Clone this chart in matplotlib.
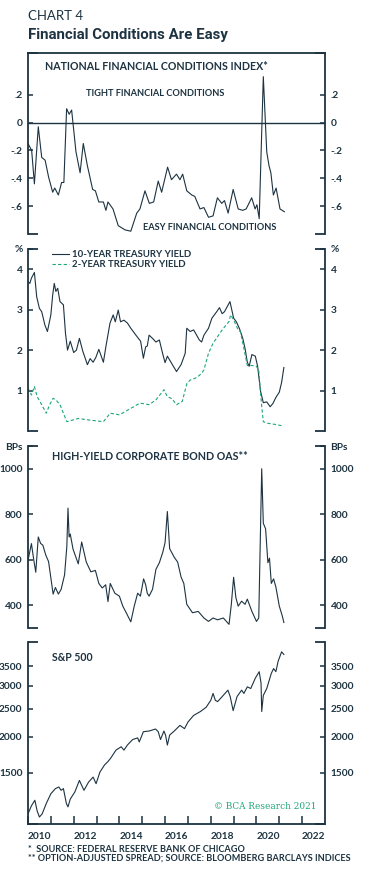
import matplotlib
matplotlib.use("Agg")
import matplotlib.pyplot as plt
import matplotlib.ticker as mticker
import numpy as np

NAVY = "#1d3341"
GREEN = "#1ea67a"

# ---- data ----
nfci_t = [2010.0, 2010.16, 2010.28, 2010.45, 2010.6, 2010.75, 2010.9, 2011.08, 2011.17, 2011.33,
          2011.47, 2011.57, 2011.69, 2011.8, 2011.91, 2012.1, 2012.28, 2012.42, 2012.6, 2012.83,
          2012.95, 2013.1, 2013.3, 2013.41, 2013.5, 2013.72, 2013.95, 2014.24, 2014.5, 2014.76,
          2014.9, 2015.12, 2015.31, 2015.5, 2015.7, 2015.85, 2016.11, 2016.28, 2016.5, 2016.65,
          2016.77, 2016.95, 2017.17, 2017.3, 2017.53, 2017.7, 2017.9, 2018.1, 2018.29, 2018.48,
          2018.6, 2018.76, 2018.98, 2019.2, 2019.4, 2019.55, 2019.79, 2019.94, 2020.02, 2020.12,
          2020.3, 2020.45, 2020.55, 2020.63, 2020.74, 2020.86, 2021.03, 2021.22]
nfci_v = [-0.15, -0.20, -0.44, -0.03, -0.25, -0.27, -0.39, -0.50, -0.47, -0.52,
          -0.43, -0.43, 0.10, 0.06, 0.09, -0.21, -0.36, -0.15, -0.31, -0.48,
          -0.49, -0.57, -0.57, -0.63, -0.57, -0.62, -0.74, -0.77, -0.78, -0.65,
          -0.62, -0.49, -0.58, -0.57, -0.42, -0.50, -0.32, -0.41, -0.37, -0.41,
          -0.37, -0.49, -0.52, -0.53, -0.62, -0.61, -0.68, -0.67, -0.54, -0.58,
          -0.56, -0.65, -0.48, -0.62, -0.63, -0.62, -0.54, -0.62, -0.59, -0.69,
          0.33, -0.21, -0.31, -0.36, -0.52, -0.47, -0.62, -0.64]

y10_t = [2010.0, 2010.08, 2010.15, 2010.28, 2010.38, 2010.5, 2010.6, 2010.74, 2010.85, 2011.0,
         2011.08, 2011.15, 2011.22, 2011.3, 2011.4, 2011.55, 2011.64, 2011.73, 2011.85, 2012.0,
         2012.12, 2012.25, 2012.4, 2012.6, 2012.72, 2012.85, 2012.97, 2013.1, 2013.3, 2013.41,
         2013.59, 2013.73, 2013.82, 2013.95, 2014.05, 2014.2, 2014.35, 2014.5, 2014.83, 2014.93,
         2015.05, 2015.15, 2015.22, 2015.3, 2015.45, 2015.6, 2015.75, 2015.9, 2016.0, 2016.1,
         2016.5, 2016.7, 2016.88, 2016.95, 2017.1, 2017.25, 2017.5, 2017.6, 2017.7, 2017.9,
         2018.05, 2018.26, 2018.38, 2018.5, 2018.6, 2018.84, 2019.0, 2019.12, 2019.25, 2019.4,
         2019.5, 2019.6, 2019.68, 2019.8, 2019.95, 2020.05, 2020.18, 2020.3, 2020.45, 2020.6,
         2020.72, 2020.85, 2021.0, 2021.1, 2021.2]
y10_v = [3.69, 3.65, 3.78, 3.92, 3.32, 3.03, 2.95, 2.62, 2.46, 2.87,
         3.36, 3.65, 3.45, 3.53, 3.20, 3.12, 2.42, 2.00, 2.22, 1.94,
         2.00, 2.29, 1.97, 1.64, 1.79, 1.70, 1.82, 2.02, 1.70, 2.09,
         2.67, 2.87, 2.70, 2.99, 2.70, 2.74, 2.67, 2.54, 2.29, 2.22,
         1.80, 2.08, 2.10, 2.37, 2.29, 2.20, 2.25, 1.90, 1.69, 1.85,
         1.47, 1.64, 1.92, 2.54, 2.46, 2.50, 2.25, 2.20, 2.37, 2.54,
         2.79, 2.95, 3.05, 2.90, 2.95, 3.20, 2.79, 2.70, 2.54, 2.29,
         2.04, 1.70, 1.60, 1.89, 1.85, 1.60, 0.98, 0.70, 0.72, 0.60,
         0.68, 0.83, 0.96, 1.20, 1.57]

y2_t = [2010.0, 2010.15, 2010.28, 2010.4, 2010.6, 2010.8, 2010.95, 2011.1, 2011.25, 2011.4,
        2011.55, 2011.7, 2012.2, 2012.7, 2013.3, 2013.6, 2014.0, 2014.5, 2014.9, 2015.3,
        2015.6, 2015.95, 2016.1, 2016.3, 2016.5, 2016.75, 2016.96, 2017.1, 2017.3, 2017.45,
        2017.6, 2017.7, 2017.9, 2018.1, 2018.5, 2018.8, 2018.87, 2019.0, 2019.2, 2019.3,
        2019.45, 2019.6, 2019.8, 2020.0, 2020.1, 2020.23, 2020.3, 2020.5, 2020.85, 2021.2]
y2_v = [1.06, 0.89, 1.10, 0.85, 0.65, 0.44, 0.65, 0.81, 0.75, 0.65,
        0.44, 0.23, 0.31, 0.27, 0.23, 0.44, 0.40, 0.56, 0.69, 0.65,
        0.77, 1.02, 0.85, 0.80, 0.65, 0.73, 1.18, 1.26, 1.30, 1.35,
        1.43, 1.51, 1.92, 2.17, 2.50, 2.71, 2.87, 2.75, 2.50, 2.45,
        2.04, 1.62, 1.62, 1.60, 1.50, 0.60, 0.23, 0.19, 0.16, 0.12]

hy_t = [2010.0, 2010.15, 2010.25, 2010.34, 2010.45, 2010.55, 2010.65, 2010.78, 2010.9, 2011.1,
        2011.2, 2011.33, 2011.45, 2011.6, 2011.7, 2011.75, 2011.8, 2011.85, 2011.97, 2012.2,
        2012.35, 2012.55, 2012.75, 2012.95, 2013.1, 2013.25, 2013.4, 2013.5, 2013.6, 2013.8,
        2014.0, 2014.15, 2014.3, 2014.5, 2014.65, 2014.8, 2014.92, 2015.06, 2015.15, 2015.22,
        2015.3, 2015.45, 2015.6, 2015.75, 2015.9, 2016.0, 2016.1, 2016.2, 2016.4, 2016.55,
        2016.7, 2016.82, 2016.95, 2017.2, 2017.45, 2017.7, 2017.9, 2018.1, 2018.3, 2018.55,
        2018.8, 2018.9, 2019.0, 2019.1, 2019.2, 2019.35, 2019.5, 2019.6, 2019.8, 2020.0,
        2020.1, 2020.23, 2020.3, 2020.4, 2020.5, 2020.57, 2020.65, 2020.75, 2020.85, 2021.0,
        2021.13, 2021.2]
hy_v = [597, 671, 601, 545, 700, 672, 664, 620, 592, 449,
        478, 449, 470, 533, 659, 827, 700, 713, 647, 582,
        678, 590, 547, 553, 496, 476, 490, 416, 496, 453,
        440, 396, 367, 327, 396, 453, 440, 516, 490, 453,
        440, 470, 558, 587, 633, 676, 812, 649, 611, 590,
        524, 496, 404, 367, 373, 344, 329, 344, 336, 344,
        316, 404, 523, 433, 396, 418, 404, 427, 373, 329,
        344, 1000, 760, 736, 587, 607, 496, 516, 480, 396,
        353, 324]

spx_t = [2010.0, 2010.15, 2010.3, 2010.4, 2010.5, 2010.62, 2010.8, 2011.0, 2011.2, 2011.35,
         2011.45, 2011.55, 2011.68, 2011.75, 2011.85, 2012.05, 2012.25, 2012.45, 2012.65, 2012.85,
         2012.98, 2013.15, 2013.35, 2013.5, 2013.62, 2013.85, 2014.08, 2014.2, 2014.35, 2014.58,
         2014.8, 2014.87, 2015.05, 2015.3, 2015.58, 2015.7, 2015.8, 2015.95, 2016.02, 2016.1,
         2016.2, 2016.4, 2016.65, 2016.85, 2017.0, 2017.25, 2017.55, 2017.8, 2018.0, 2018.1,
         2018.2, 2018.3, 2018.5, 2018.75, 2018.85, 2018.98, 2019.15, 2019.35, 2019.45, 2019.6,
         2019.75, 2019.95, 2020.12, 2020.2, 2020.23, 2020.3, 2020.45, 2020.65, 2020.75, 2020.85,
         2020.95, 2021.1, 2021.2]
spx_v = [1084, 1156, 1208, 1110, 1057, 1084, 1177, 1272, 1325, 1342,
         1307, 1325, 1177, 1146, 1219, 1290, 1414, 1307, 1395, 1452,
         1378, 1512, 1599, 1643, 1688, 1799, 1848, 1799, 1873, 1957,
         1983, 1920, 2083, 2094, 2128, 2083, 1957, 2094, 2027, 1873,
         2027, 2094, 2190, 2134, 2249, 2371, 2446, 2531, 2673, 2824,
         2673, 2646, 2754, 2898, 2754, 2463, 2754, 2898, 2824, 2976,
         2936, 3189, 3357, 3067, 2445, 2780, 2936, 3312, 3441, 3357,
         3650, 3930, 3850]

years_major = list(range(2010, 2023, 2))
years_minor = list(range(2011, 2023, 2))

plt.rcParams['font.family'] = ['Lato', 'DejaVu Sans']

W, H = 376, 880
fig = plt.figure(figsize=(W / 100, H / 100), dpi=100)


def fx(px):
    return px / W


def fy(py):
    return 1 - py / H


left, right = 28, 325
panels = [(53, 234), (249, 431), (446, 628), (642, 824)]
axes = []
for top, bot in panels:
    ax = fig.add_axes([fx(left), fy(bot), fx(right - left), (bot - top) / H])
    axes.append(ax)

stub = 10 / (right - left)
for i, ax in enumerate(axes):
    for s in ['top', 'bottom']:
        ax.spines[s].set_visible(False)
    for s in ['left', 'right']:
        ax.spines[s].set_color(NAVY)
        ax.spines[s].set_linewidth(1.3)
    ax.set_xlim(2010, 2023)
    ax.tick_params(axis='y', direction='in', length=3.5, width=1.1, color=NAVY,
                   left=True, right=True, labelleft=True, labelright=True,
                   labelsize=7.3, labelcolor=NAVY, pad=4)
    # short horizontal stubs at the corners
    for yy in [0, 1]:
        ax.plot([0, stub], [yy, yy], transform=ax.transAxes, color=NAVY, lw=1.3,
                clip_on=False, solid_capstyle='butt')
        ax.plot([1 - stub, 1], [yy, yy], transform=ax.transAxes, color=NAVY, lw=1.3,
                clip_on=False, solid_capstyle='butt')
    if i < 3:
        ax.set_xticks([])

# panel 1: NFCI
ax = axes[0]
ax.plot(nfci_t, nfci_v, color=NAVY, lw=0.8)
ax.axhline(0, color=NAVY, lw=1.0)
ax.spines['top'].set_visible(True)
ax.spines['top'].set_color(NAVY)
ax.spines['top'].set_linewidth(1.3)
ax.set_ylim(-0.8, 0.5)
ax.set_yticks([0.2, 0, -0.2, -0.4, -0.6])
ax.set_yticklabels(['.2', '0', '-.2', '-.4', '-.6'], fontweight='bold')
ax.text(fx(156), fy(67), "NATIONAL FINANCIAL CONDITIONS INDEX*", transform=fig.transFigure,
        ha='center', va='center', fontsize=7.7, fontweight='bold', color=NAVY)
ax.text(fx(86), fy(93), "TIGHT FINANCIAL CONDITIONS", transform=fig.transFigure,
        ha='left', va='center', fontsize=6.7, fontweight='bold', color=NAVY)
ax.text(fx(143), fy(227.5), "EASY FINANCIAL CONDITIONS", transform=fig.transFigure,
        ha='left', va='center', fontsize=6.7, fontweight='bold', color=NAVY)

# panel 2: Treasury yields
ax = axes[1]
ax.plot(y10_t, y10_v, color=NAVY, lw=0.8, label='10-YEAR TREASURY YIELD')
ax.plot(y2_t, y2_v, color=GREEN, lw=0.8, ls=(0, (3, 2)), label='2-YEAR TREASURY YIELD')
ax.set_ylim(0, 4.5)
ax.set_yticks([1, 2, 3, 4, 4.5])
ax.set_yticklabels(['1', '2', '3', '4', '%'], fontweight='bold')
ax.legend(loc='upper left', bbox_to_anchor=(0.075, 1.005),
          frameon=False, handlelength=1.75, handletextpad=0.35,
          labelspacing=0.15, borderpad=0.0, borderaxespad=0.2,
          prop={'weight': 'bold', 'size': 6.9}, labelcolor=NAVY)

# panel 3: HY OAS
ax = axes[2]
ax.plot(hy_t, hy_v, color=NAVY, lw=0.8)
ax.set_ylim(300, 1100)
ax.set_yticks([400, 600, 800, 1000, 1100])
ax.set_yticklabels(['400', '600', '800', '1000', 'BPs'], fontweight='bold')
ax.text(fx(52), fy(456.5), "HIGH-YIELD CORPORATE BOND OAS**", transform=fig.transFigure,
        ha='left', va='center', fontsize=7.7, fontweight='bold', color=NAVY)

# panel 4: S&P 500
ax = axes[3]
ax.plot(spx_t, spx_v, color=NAVY, lw=0.8)
ax.set_yscale('log')
ax.set_ylim(1000, 4250)
ax.yaxis.set_major_locator(mticker.FixedLocator([1500, 2000, 2500, 3000, 3500]))
ax.yaxis.set_minor_locator(mticker.NullLocator())
ax.yaxis.set_major_formatter(mticker.FixedFormatter(['1500', '2000', '2500', '3000', '3500']))
ax.spines['bottom'].set_visible(True)
ax.spines['bottom'].set_color(NAVY)
ax.spines['bottom'].set_linewidth(1.3)
ax.set_xticks(years_major)
ax.set_xticklabels([str(y) for y in years_major], ha='left', fontweight='bold')
ax.set_xticks(years_minor, minor=True)
ax.tick_params(axis='x', which='both', direction='in', length=5.5, width=1.1, color=NAVY,
               labelsize=7.3, labelcolor=NAVY, pad=6)
ax.text(fx(52), fy(657), "S&P 500", transform=fig.transFigure,
        ha='left', va='center', fontsize=7.6, fontweight='bold', color=NAVY)
ax.text(fx(317), fy(806), "\u00a9 BCA Research 2021", transform=fig.transFigure,
        ha='right', va='center', fontsize=6.4, color=GREEN, family='DejaVu Serif')

for ax in axes:
    for lab in ax.get_yticklabels():
        lab.set_fontweight('bold')

# titles
fig.text(fx(28), fy(16), "CHART 4", ha='left', va='center', fontsize=9.5, color=NAVY)
fig.text(fx(28), fy(35), "Financial Conditions Are Easy", ha='left', va='center',
         fontsize=10.8, fontweight='bold', color=NAVY,
         family=['Liberation Sans Narrow', 'Roboto', 'DejaVu Sans'])

# footnotes
fig.text(fx(28), fy(849), "*  SOURCE: FEDERAL RESERVE BANK OF CHICAGO", ha='left', va='center',
         fontsize=6.6, fontweight='bold', color=NAVY)
fig.text(fx(28), fy(858), "** OPTION-ADJUSTED SPREAD; SOURCE: BLOOMBERG BARCLAYS INDICES",
         ha='left', va='center', fontsize=6.6, fontweight='bold', color=NAVY)

fig.savefig("out.png", dpi=100)
